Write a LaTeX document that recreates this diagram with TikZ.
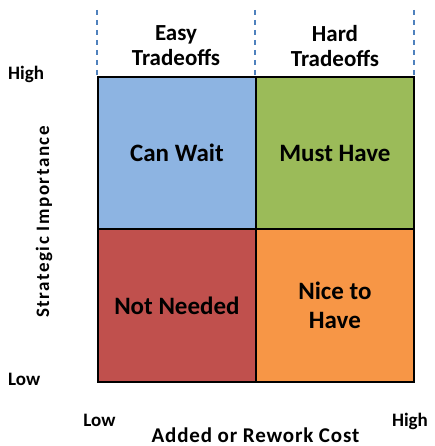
\documentclass[tikz,border=0pt]{standalone}
\usepackage{fontspec}
\setmainfont{Carlito}
\definecolor{qblue}{HTML}{8DB4E2}
\definecolor{qgreen}{HTML}{9BBB59}
\definecolor{qred}{HTML}{C0504D}
\definecolor{qorange}{HTML}{F79646}
\definecolor{dashblue}{HTML}{4F81BD}
\begin{document}
\begin{tikzpicture}[x=1pt,y=1pt,
  quad/.style={draw=black,line width=1.8pt,minimum width=158pt,minimum height=152.5pt,inner sep=0pt,anchor=north west,font=\fontsize{25}{29}\selectfont\bfseries,align=center},
  axlab/.style={font=\fontsize{19}{22}\selectfont\bfseries,inner sep=0pt,anchor=base},
  toplab/.style={font=\fontsize{23}{25}\selectfont\bfseries,align=center,inner sep=0pt},
  guide/.style={draw=dashblue,line width=1.3pt,dash pattern=on 5pt off 5pt}]
\useasboundingbox (0,0) rectangle (434,446);
\coordinate (d1a) at (97,436); \coordinate (d1b) at (97,370);
\coordinate (d2a) at (255,436); \coordinate (d2b) at (255,370);
\coordinate (d3a) at (414,436); \coordinate (d3b) at (414,370);
\draw[guide] (d1a) -- (d1b);
\draw[guide] (d2a) -- (d2b);
\draw[guide] (d3a) -- (d3b);
\node[quad,fill=qblue] (cw) at (97,370) {Can Wait};
\node[quad,fill=qgreen] (mh) at (255,370) {Must Have};
\node[quad,fill=qred] (nn) at (97,217.5) {Not Needed};
\node[quad,fill=qorange] (nh) at (255,217.5) {Nice to\\Have};
\node[toplab] (easy) at (176,400) {Easy\\Tradeoffs};
\node[toplab] (hard) at (335,400) {Hard\\Tradeoffs};
\node[axlab,anchor=base west] (hh) at (8,366) {High};
\node[axlab,anchor=base west] (hl) at (8,60) {Low};
\node[axlab,rotate=90,anchor=center,font=\fontsize{19}{22}\selectfont\bfseries\addfontfeatures{LetterSpace=8}] (si) at (44,224) {Strategic Importance};
\node[axlab] (bl) at (99.5,19) {Low};
\node[axlab] (bh) at (410,19) {High};
\node[axlab,font=\fontsize{21}{22}\selectfont\bfseries\addfontfeatures{LetterSpace=4}] (ac) at (255.5,4) {Added or Rework Cost};
\end{tikzpicture}
\end{document}
